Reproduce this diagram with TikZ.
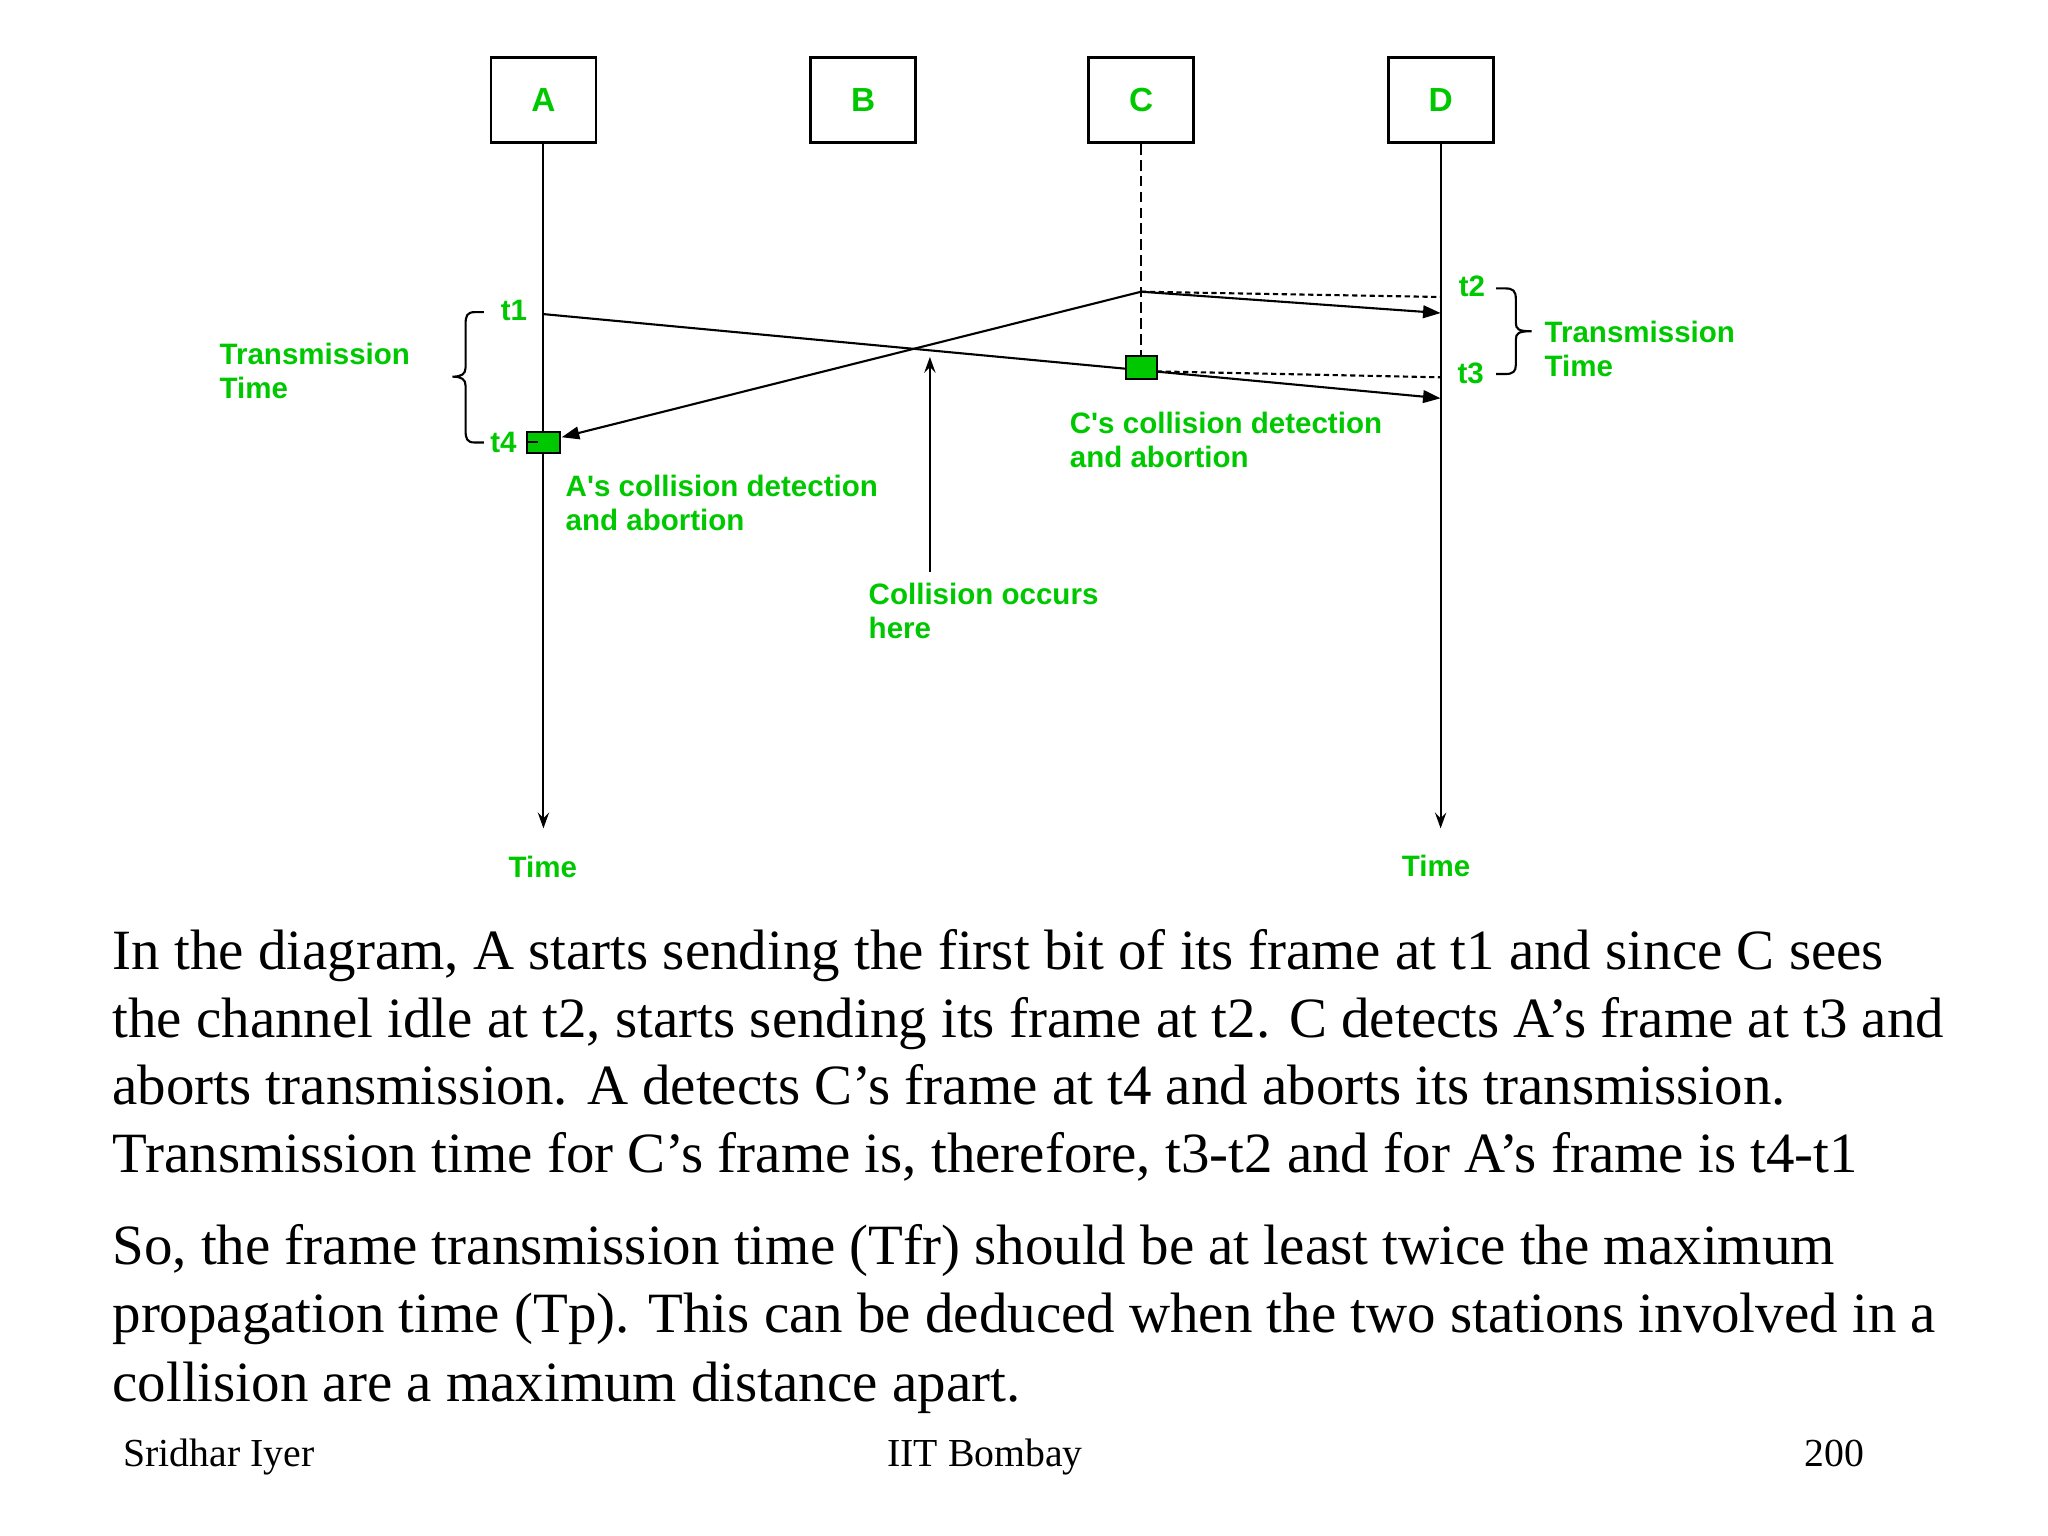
\documentclass[tikz,border=0pt]{standalone}
\usepackage{fontspec}
\setmainfont{Liberation Serif}
\newfontfamily\labfont{Liberation Sans}[Ligatures=TeXOff]
\usetikzlibrary{arrows.meta}
\definecolor{lgreen}{RGB}{0,200,0}
\begin{document}
\begin{tikzpicture}[x=0.013079cm,y=-0.0131704cm,
  stn/.style={draw,line width=0.8pt,minimum width=1.05cm,minimum height=0.856cm,inner sep=0pt,
    font=\labfont\bfseries\fontsize{9.5}{11}\selectfont,text=lgreen},
  lab/.style={font=\labfont\bfseries\fontsize{8.4}{9.7}\selectfont,text=lgreen,inner sep=0pt,align=left},
  sq/.style={draw,fill=lgreen,line width=0.6pt,inner sep=0pt},
  ln/.style={line width=0.6pt},
  tri/.style={-{Triangle[length=5pt,width=3.6pt]}},
  stl/.style={-{Stealth[length=4.5pt,width=3.2pt,inset=1.6pt]}},
  dots/.style={line width=0.6pt,dash pattern=on 1.5pt off 1pt},
  para/.style={font=\fontsize{16.2}{19.4}\selectfont,anchor=base west,inner sep=0pt},
  foot/.style={font=\fontsize{11.3}{13}\selectfont,anchor=base west,inner sep=0pt}]
\useasboundingbox (0,0) rectangle (1565.9,1166.2);

% stations
\node[stn] (A) at (415.5,76) {A};
\node[stn] (B) at (660,76) {B};
\node[stn] (C) at (872.5,76) {C};
\node[stn] (D) at (1101.5,76) {D};

% key points
\coordinate (Aend) at (415.5,629);
\coordinate (Dend) at (1101.5,629);
\coordinate (p1) at (415.5,238.5);
\coordinate (p2) at (872.5,221.5);
\coordinate (d2) at (1101.5,237.7);
\coordinate (d3) at (1101.5,302.4);
\coordinate (d2dot) at (1101.5,225.5);
\coordinate (d3dot) at (1101.5,286.5);
\coordinate (a4) at (429.5,332);
\coordinate (colbot) at (711,434);
\coordinate (coltop) at (711,271);

% lifelines
\draw[ln,stl] (A.south) -- (Aend);
\draw[ln,stl] (D.south) -- (Dend);
\draw[ln,dash pattern=on 3pt off 1.5pt] (C.south) -- (872.5,271);

% frames
\draw[ln,tri] (p1) -- (d3);
\draw[ln,tri] (p2) -- (d2);
\draw[ln,tri] (p2) -- (a4);
\draw[dots] (p2) -- (d2dot);
\draw[dots] (884.5,282) -- (d3dot);

% detection squares
\node[sq,minimum width=0.31cm,minimum height=0.224cm] (Csq) at (872.5,279) {};
\node[sq,minimum width=0.336cm,minimum height=0.21cm] (Asq) at (415.5,336) {};
\draw[ln] (402.5,335.5) -- (411.5,335.5);

% collision arrow
\draw[ln,stl] (colbot) -- (coltop);

% left brace
\draw[ln] (370,237) -- (363,237) .. controls (357,237) and (356,240) .. (356,246) -- (356,279)
  .. controls (356,284) and (353,286) .. (346,286) .. controls (353,286) and (356,288) .. (356,293)
  -- (356,327) .. controls (356,333) and (357,336) .. (363,336) -- (370,336);
% right brace
\draw[ln] (1144,219) -- (1151,219) .. controls (1157,219) and (1159,221) .. (1159,227) -- (1159,245)
  .. controls (1159,250) and (1161,251.5) .. (1171,251.5) .. controls (1161,251.5) and (1159,253) .. (1159,258)
  -- (1159,277) .. controls (1159,282) and (1157,284) .. (1151,284) -- (1144,284);

% labels
\node[lab] (t1) at (393,235.4) {t1};
\node[lab] (t4) at (385,336) {t4};
\node[lab] (t2) at (1125.5,217.7) {t2};
\node[lab] (t3) at (1124.5,283.3) {t3};
\node[lab,anchor=west] (ttl) at (167.4,282) {Transmission\\Time};
\node[lab,anchor=west] (ttr) at (1180.5,265) {Transmission\\Time};
\node[lab,anchor=west] (cdet) at (817.5,334) {C's collision detection\\and abortion};
\node[lab,anchor=west] (adet) at (432,382) {A's collision detection\\and abortion};
\node[lab,anchor=west] (coll) at (663.7,464) {Collision occurs\\here};
\node[lab] (timeA) at (415,658) {Time};
\node[lab] (timeD) at (1098,657.6) {Time};

% paragraph
\node[para] (l1) at (85.5,736.5) {In the diagram, A starts sending the first bit of its frame at t1 and since C sees};
\node[para] (l2) at (85.5,787.5) {the channel idle at t2, starts sending its frame at t2. C detects A’s frame at t3 and};
\node[para] (l3) at (85.5,839) {aborts transmission. A detects C’s frame at t4 and aborts its transmission.};
\node[para] (l4) at (85.5,890.5) {Transmission time for C’s frame is, therefore, t3-t2 and for A’s frame is t4-t1};
\node[para] (l5) at (85.5,960.5) {So, the frame transmission time (Tfr) should be at least twice the maximum};
\node[para] (l6) at (85.5,1012) {propagation time (Tp). This can be deduced when the two stations involved in a};
\node[para] (l7) at (85.5,1064) {collision are a maximum distance apart.};

% footer
\node[foot] (f1) at (94,1113.7) {Sridhar Iyer};
\node[foot] (f2) at (678,1113.7) {IIT Bombay};
\node[foot] (f3) at (1379,1113.7) {200};
\end{tikzpicture}
\end{document}
